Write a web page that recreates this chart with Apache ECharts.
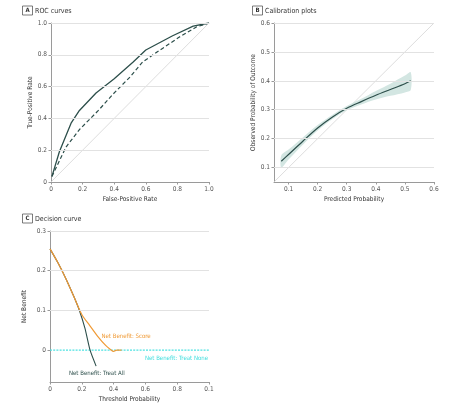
<!DOCTYPE html>
<html><head><meta charset="utf-8">
<script src="https://cdn.jsdelivr.net/npm/echarts@6/dist/echarts.min.js"></script>
<style>html,body{margin:0;padding:0;background:#fff}#c{width:467px;height:405px}</style>
</head><body><div id="c"></div>
<script>
// ---- Panel A: ROC curves ----
const rocSolidX = [0.006,0.053,0.127,0.18,0.285,0.40,0.52,0.60,0.77,0.90,1.0];
const rocSolidY = [0.035,0.19,0.37,0.45,0.56,0.65,0.755,0.83,0.92,0.98,1.0];
const rocDashX  = [0.006,0.095,0.18,0.30,0.39,0.50,0.58,0.69,0.81,0.92,1.0];
const rocDashY  = [0.035,0.22,0.33,0.45,0.55,0.66,0.755,0.83,0.91,0.975,1.0];
const rocTicks  = [0,0.2,0.4,0.6,0.8,1.0];
const rocTickLabels = ['0','0.2','0.4','0.6','0.8','1.0'];
// ---- Panel B: Calibration ----
const calX   = [0.075,0.1,0.15,0.2,0.25,0.3,0.35,0.4,0.45,0.5,0.52];
const calMid = [0.122,0.145,0.192,0.237,0.274,0.305,0.328,0.35,0.37,0.39,0.40];
const calLow = [0.10,0.128,0.18,0.228,0.267,0.298,0.318,0.335,0.348,0.36,0.368];
const calUp  = [0.142,0.162,0.205,0.247,0.282,0.313,0.338,0.365,0.39,0.418,0.43];
const calTicks = [0.1,0.2,0.3,0.4,0.5,0.6];
const calTickLabels = ['0.1','0.2','0.3','0.4','0.5','0.6'];
// ---- Panel C: Decision curve ----
const dcScoreX = [0,0.05,0.1,0.15,0.2,0.25,0.3,0.35,0.38,0.4,0.42,0.45];
const dcScoreY = [0.255,0.22,0.18,0.135,0.09,0.062,0.035,0.012,0.002,-0.003,0,0];
const dcAllX = [0,0.05,0.1,0.15,0.185,0.22,0.252,0.29];
const dcAllY = [0.255,0.22,0.18,0.135,0.1,0.055,0,-0.04];
const dcNoneX = [0,1];
const dcNoneY = [0,0];
const dcXTicks = [0,0.2,0.4,0.6,0.8,1.0];
const dcXTickLabels = ['0','0.2','0.4','0.6','0.8','0.1'];
const dcYTicks = [0,0.1,0.2,0.3];
const dcYTickLabels = ['0','0.1','0.2','0.3'];

const zip = (a,b)=>a.map((v,i)=>[v,b[i]]);
const FONT = '"Liberation Sans Narrow","DejaVu Sans Condensed","Liberation Sans",sans-serif';
const DARK = '#2d4f4b';
const AXC = '#9a9a9a';
const GRIDC = '#e2e2e2';

function fmt(vals, labels){ return v => { const i = vals.findIndex(t=>Math.abs(t-v)<1e-9); return i>=0?labels[i]:''; }; }

function xAx(gi, min, max, ticks, labels, name, nameGap){
  return {type:'value', gridIndex:gi, min, max, name, nameLocation:'middle', nameGap,
    nameTextStyle:{fontFamily:FONT,fontSize:6.5,color:'#333'},
    axisLine:{onZero:false,lineStyle:{color:AXC,width:1}},
    axisTick:{show:true,length:2.5,customValues:ticks,lineStyle:{color:AXC}},
    axisLabel:{customValues:ticks,formatter:fmt(ticks,labels),fontFamily:FONT,fontSize:6.5,color:'#555',margin:4},
    splitLine:{show:false}};
}
function yAx(gi, min, max, ticks, labels, name, nameGap){
  return {type:'value', gridIndex:gi, min, max, name, nameLocation:'middle', nameGap,
    nameTextStyle:{fontFamily:FONT,fontSize:6.5,color:'#333'},
    axisLine:{show:true,onZero:false,lineStyle:{color:AXC,width:1}},
    axisTick:{show:true,length:2.5,customValues:ticks,lineStyle:{color:AXC}},
    axisLabel:{customValues:ticks,formatter:fmt(ticks,labels),fontFamily:FONT,fontSize:6.5,color:'#555',margin:4},
    splitLine:{show:false}};
}
function gridLines(vals){
  return {silent:true,symbol:'none',label:{show:false},animation:false,
    lineStyle:{color:GRIDC,width:1,type:'solid'},data:vals.map(v=>({yAxis:v}))};
}

const chart = echarts.init(document.getElementById('c'),null,{renderer:'canvas'});
const option = {
  animation:false,
  grid:[
    {left:51,top:23,width:158,height:159},
    {left:274,top:23,width:160,height:159},
    {left:50,top:231,width:159,height:151}
  ],
  xAxis:[
    xAx(0,0,1,rocTicks,rocTickLabels,'False-Positive Rate',14),
    xAx(1,0.05,0.6,calTicks,calTickLabels,'Predicted Probability',14),
    xAx(2,0,1,dcXTicks,dcXTickLabels,'Threshold Probability',14)
  ],
  yAxis:[
    yAx(0,0,1,rocTicks,rocTickLabels,'True-Positive Rate',17),
    yAx(1,0.05,0.6,calTicks,calTickLabels,'Observed Probability of Outcome',16),
    yAx(2,-0.08,0.3,dcYTicks,dcYTickLabels,'Net Benefit',22)
  ],
  series:[
    {type:'line',xAxisIndex:0,yAxisIndex:0,data:[[0,0],[1,1]],symbol:'none',
     lineStyle:{color:'#d4d4d4',width:0.8},markLine:gridLines(rocTicks.filter(v=>v>0)),z:1},
    {type:'line',xAxisIndex:0,yAxisIndex:0,data:zip(rocDashX,rocDashY),symbol:'none',smooth:false,
     lineStyle:{color:DARK,width:1.2,type:[4,2.5]},z:3},
    {type:'line',xAxisIndex:0,yAxisIndex:0,data:zip(rocSolidX,rocSolidY),symbol:'none',smooth:false,
     lineStyle:{color:DARK,width:1.3},z:3},

    {type:'line',xAxisIndex:1,yAxisIndex:1,data:[[0.05,0.05],[0.6,0.6]],symbol:'none',
     lineStyle:{color:'#d4d4d4',width:0.8},markLine:gridLines(calTicks),z:1},
    {type:'custom',xAxisIndex:1,yAxisIndex:1,data:[[calX[0],calLow[0]]],z:2,
     renderItem:(params,api)=>{
       const pts = calX.map((x,i)=>api.coord([x,calUp[i]])).concat(calX.map((x,i)=>api.coord([x,calLow[i]])).reverse());
       return {type:'polygon',shape:{points:pts,smooth:0.3},style:{fill:'#d3e6e2',stroke:null}};
     }},
    {type:'line',xAxisIndex:1,yAxisIndex:1,data:zip(calX,calMid),symbol:'none',smooth:0.3,
     lineStyle:{color:DARK,width:1.2},z:3},

    {type:'line',xAxisIndex:2,yAxisIndex:2,data:zip(dcNoneX,dcNoneY),symbol:'none',
     lineStyle:{color:'#4ee2e2',width:1.2,type:[2,1.2]},markLine:gridLines(dcYTicks.filter(v=>v>0)),z:2},
    {type:'line',xAxisIndex:2,yAxisIndex:2,data:zip(dcAllX,dcAllY),symbol:'none',smooth:0.2,
     lineStyle:{color:DARK,width:1.1},z:3},
    {type:'line',xAxisIndex:2,yAxisIndex:2,data:zip(dcScoreX,dcScoreY),symbol:'none',smooth:0.3,
     lineStyle:{color:'#f09a35',width:1.2},z:4}
  ],
  graphic:[
    {type:'rect',shape:{x:22.5,y:6,width:10,height:9},style:{fill:'#fff',stroke:'#444',lineWidth:0.7}},
    {type:'text',x:27.5,y:10.7,style:{text:'A',fontFamily:FONT,fontSize:6,fontWeight:'bold',fill:'#333',align:'center',verticalAlign:'middle'}},
    {type:'text',x:35,y:10.7,style:{text:'ROC curves',fontFamily:FONT,fontSize:7,fill:'#333',verticalAlign:'middle'}},
    {type:'rect',shape:{x:252.5,y:6,width:10,height:9},style:{fill:'#fff',stroke:'#444',lineWidth:0.7}},
    {type:'text',x:257.5,y:10.7,style:{text:'B',fontFamily:FONT,fontSize:6,fontWeight:'bold',fill:'#333',align:'center',verticalAlign:'middle'}},
    {type:'text',x:265,y:10.7,style:{text:'Calibration plots',fontFamily:FONT,fontSize:7,fill:'#333',verticalAlign:'middle'}},
    {type:'rect',shape:{x:22.5,y:214,width:10,height:9},style:{fill:'#fff',stroke:'#444',lineWidth:0.7}},
    {type:'text',x:27.5,y:218.7,style:{text:'C',fontFamily:FONT,fontSize:6,fontWeight:'bold',fill:'#333',align:'center',verticalAlign:'middle'}},
    {type:'text',x:35,y:218.7,style:{text:'Decision curve',fontFamily:FONT,fontSize:7,fill:'#333',verticalAlign:'middle'}},
    {type:'text',x:101.5,y:336.7,style:{text:'Net Benefit: Score',fontFamily:FONT,fontSize:6,fill:'#f09a35',verticalAlign:'middle'}},
    {type:'text',x:208,y:358,style:{text:'Net Benefit: Treat None',fontFamily:FONT,fontSize:6,fill:'#3fdede',align:'right',verticalAlign:'middle'}},
    {type:'text',x:69,y:373.7,style:{text:'Net Benefit: Treat All',fontFamily:FONT,fontSize:6,fill:DARK,verticalAlign:'middle'}}
  ]
};
chart.setOption(option);
</script></body></html>
